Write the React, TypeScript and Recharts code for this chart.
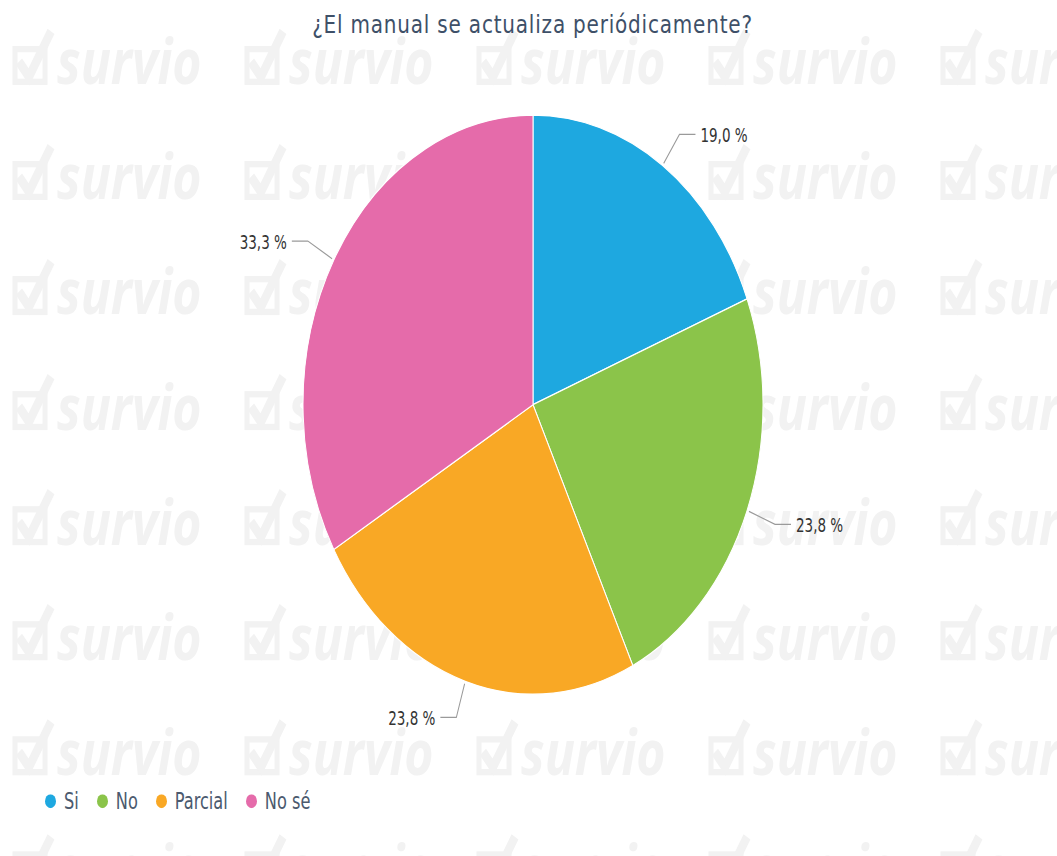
import { PieChart, Pie, Cell, Legend } from "recharts"

const categories = ["Si", "No", "Parcial", "No sé"]
const responses = [4, 5, 5, 7]
const sliceColors = ["#1EA8E0", "#8BC44A", "#F9A825", "#E56BAA"]

const chartTitle = "¿El manual se actualiza periódicamente?"

const STRETCH = 1.2588
const labelFont = "'DejaVu Sans Condensed', 'DejaVu Sans', sans-serif"

const chartData = categories.map((name, i) => ({
  name,
  value: responses[i],
  color: sliceColors[i],
}))

function formatPercent(percent: number): string {
  return `${(percent * 100).toFixed(1).replace(".", ",")} %`
}

function renderSliceLabel(props: any) {
  const { cx, cy, midAngle, outerRadius, percent } = props
  const rad = Math.PI / 180
  const cos = Math.cos(-midAngle * rad)
  const sin = Math.sin(-midAngle * rad)
  const sx = cx + (outerRadius + 2) * cos
  const sy = cy + (outerRadius + 2) * sin
  const mx = cx + (outerRadius + 30) * cos
  const my = cy + (outerRadius + 30) * sin
  const right = cos >= 0
  const ex = mx + (right ? 16 : -16)
  return (
    <g>
      <path
        d={`M${sx},${sy} L${mx},${my} L${ex},${my}`}
        stroke="#9a9a9a"
        strokeWidth={1}
        fill="none"
      />
      <text
        x={ex + (right ? 5 : -5)}
        y={my}
        dy={6}
        textAnchor={right ? "start" : "end"}
        fill="#333333"
        fontSize={15}
        fontFamily={labelFont}
      >
        {formatPercent(percent)}
      </text>
    </g>
  )
}

function LegendContent({ payload }: any) {
  // keep the categories' own order instead of the legend's sorted one
  const items = [...(payload || [])].sort(
    (a: any, b: any) => categories.indexOf(a.value) - categories.indexOf(b.value),
  )
  return (
    <div style={{ display: "flex", alignItems: "center", gap: 18 }}>
      {items.map((entry: any) => (
        <div
          key={entry.value}
          style={{ display: "flex", alignItems: "center", gap: 8 }}
        >
          <svg width={11} height={11}>
            <circle cx={5.5} cy={5.5} r={5.5} fill={entry.color} />
          </svg>
          <span
            style={{
              fontFamily: labelFont,
              fontSize: 18,
              color: "#4b5a6e",
            }}
          >
            {entry.value}
          </span>
        </div>
      ))}
    </div>
  )
}

function Watermark() {
  const rows = Array.from({ length: 8 }, (_, i) => i)
  const cols = Array.from({ length: 5 }, (_, i) => i)
  return (
    <svg
      width={1057}
      height={680}
      style={{ position: "absolute", left: 0, top: 0 }}
    >
      {rows.map((r) =>
        cols.map((c) => (
          <g key={`${r}-${c}`} transform={`translate(${13 + c * 232},${67 + r * 91.4})`}>
            <rect x={2} y={-28} width={30} height={26} fill="none" stroke="#f2f2f2" strokeWidth={5} />
            <path d="M6,-18 L16,-6 L38,-42" fill="none" stroke="#f2f2f2" strokeWidth={8} />
            <text
              x={44}
              y={0}
              fontFamily="'Open Sans', sans-serif"
              fontWeight={700}
              fontStyle="italic"
              fontSize={50}
              fill="#f2f2f2"
            >
              survio
            </text>
          </g>
        )),
      )}
    </svg>
  )
}

export default function App() {
  return (
    <div
      style={{
        position: "absolute",
        left: 0,
        top: 0,
        width: 1057,
        height: 680,
        background: "#ffffff",
        transform: `scaleY(${STRETCH})`,
        transformOrigin: "0 0",
        overflow: "hidden",
      }}
    >
      <Watermark />
      <div
        style={{
          position: "absolute",
          left: 0,
          top: 7,
          width: 1065,
          textAlign: "center",
          fontFamily: "'DejaVu Sans', sans-serif",
          fontSize: 20,
          letterSpacing: 0.8,
          lineHeight: "24px",
          color: "#3e5068",
        }}
      >
        {chartTitle}
      </div>
      <div style={{ position: "absolute", left: 0, top: 0 }}>
        <PieChart width={1057} height={680}>
          <Pie
            data={chartData}
            dataKey="value"
            nameKey="name"
            cx={528}
            cy={316.5}
            outerRadius={230}
            startAngle={90}
            endAngle={-270}
            stroke="#ffffff"
            strokeWidth={1}
            label={renderSliceLabel}
            labelLine={false}
            isAnimationActive={false}
          >
            {chartData.map((entry) => (
              <Cell key={entry.name} fill={entry.color} />
            ))}
          </Pie>
          <Legend
            content={<LegendContent />}
            wrapperStyle={{ position: "absolute", left: 45, top: 626, width: 400 }}
          />
        </PieChart>
      </div>
    </div>
  )
}
